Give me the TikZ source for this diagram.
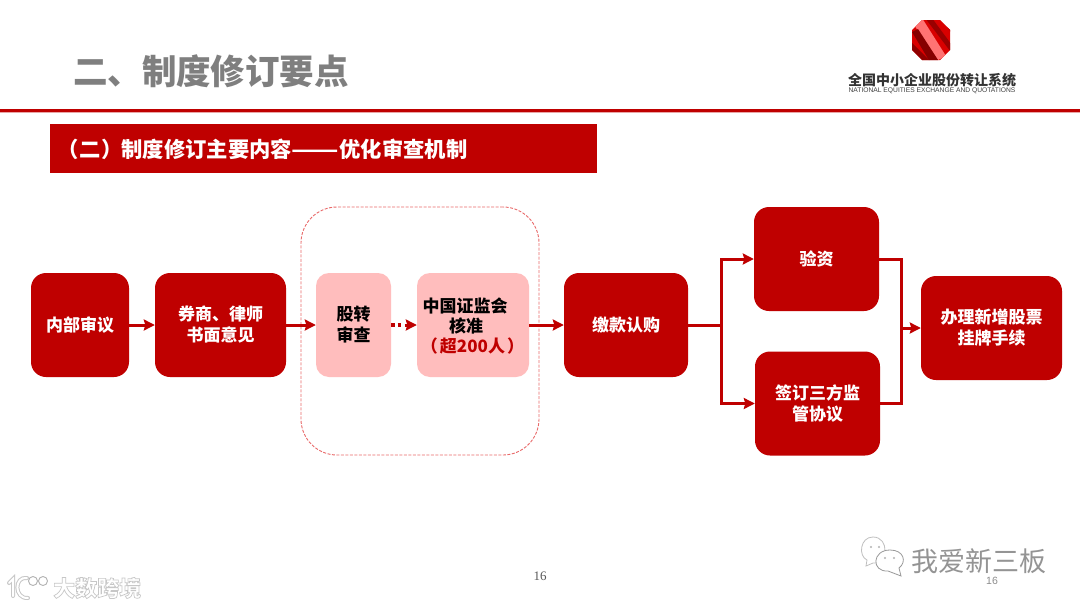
\documentclass[tikz,border=0pt]{standalone}
\usepackage{fontspec}
\setmainfont{Noto Sans CJK SC}
\newfontfamily\serifnum{Liberation Serif}
\newfontfamily\latinsans{Liberation Sans}
\usetikzlibrary{arrows.meta,shapes.geometric}
\definecolor{brand}{HTML}{BF0000}
\definecolor{pinkbox}{HTML}{FFBDBD}
\definecolor{dashred}{HTML}{E96A6A}
\definecolor{titlegrey}{HTML}{7F7F7F}
\newcommand{\fsz}[1]{\fontsize{#1}{#1}\selectfont}
\tikzset{
  x=1pt,y=-1pt,
  redbox/.style={draw=none,fill=brand,rounded corners=15pt,inner sep=0pt,text=white,font=\fsz{17}\bfseries,align=center},
  pinkbox/.style={draw=none,fill=pinkbox,rounded corners=13pt,inner sep=0pt,text=black,font=\fsz{17}\bfseries,align=center},
  link/.style={draw=brand,line width=3pt},
  arrowlink/.style={link,-{Stealth[length=11pt,width=11pt,inset=1.5pt]}},
  dotlink/.style={draw=brand,line width=3.5pt,dash pattern=on 3.5pt off 3pt},
}
\begin{document}
\begin{tikzpicture}
\useasboundingbox (0,0) rectangle (1080,608);
\fill[white] (0,0) rectangle (1080,608);

% header
\node[text=titlegrey,font=\fsz{34.5}\bfseries,anchor=center] (title) at (211,71) {二、制度修订要点};
\fill[brand] (0,108.5) rectangle (1080,111.5);
\fill[brand!35] (0,111.5) rectangle (1080,112.5);
\node[fill=brand,minimum width=547pt,minimum height=49pt,inner sep=0pt,anchor=north west] (banner) at (50,124) {};
\node[text=white,font=\fsz{21.3}\bfseries,anchor=west,inner sep=0pt] (bannertext) at (57,149) {（\hspace{1pt}二\hspace{1pt}）\hspace{-1.5pt}制度修订主要内容\scalebox{1.3}[1]{——}优化审查机制};

% logo
\begin{scope}
\clip (922,20) -- (940,20) -- (950,30) -- (950,50) -- (940,60) -- (922,60) -- (912,50) -- (912,30) -- cycle;
\fill[red!85!black] (905,14) rectangle (957,66);
\fill[brand!75!black] (905,36) -- (935,66) -- (905,66) -- cycle;
\fill[brand!80!black] (922,14) -- (929,14) -- (957,52) -- (957,60) -- cycle;
\fill[red!55!white] (912,22) -- (922,18) -- (946,56) -- (938,60) -- cycle;
\fill[brand!70!black] (912,32) -- (918,29) -- (938,60) -- (930,62) -- cycle;
\fill[brand] (940,16) -- (957,16) -- (957,42) -- cycle;
\end{scope}
\node[text=black!80,font=\fsz{14}\bfseries,inner sep=0pt] (logotext) at (932,80) {全国中小企业股份转让系统};
\node[text=black!75,font=\latinsans\fsz{6.7},inner sep=0pt] (logoen) at (932,91) {NATIONAL EQUITIES EXCHANGE AND QUOTATIONS};

% dashed group
\node[draw=dashred,line width=0.9pt,dash pattern=on 3pt off 1.5pt,rounded corners=36pt,minimum width=238pt,minimum height=248pt,inner sep=0pt] (group) at (420,331) {};

% boxes
\node[redbox,minimum width=98pt,minimum height=104pt] (neibu) at (80,325) {内部审议};
\node[redbox,minimum width=131pt,minimum height=104pt] (quan) at (220.5,325) {券商、律师\\[4pt]书面意见};
\node[pinkbox,minimum width=75pt,minimum height=104pt] (gu) at (353.5,325) {股转\\[4pt]审查};
\node[pinkbox,minimum width=112pt,minimum height=104pt] (zheng) at (473,325) {};
\node[text=black,font=\fsz{17}\bfseries,inner sep=0pt] (zhengA) at (465,306) {中国证监会};
\node[text=black,font=\fsz{17}\bfseries,inner sep=0pt] (zhengB) at (466,326) {核准};
\node[text=brand,font=\fsz{17}\bfseries,inner sep=0pt] (zhengC) at (472.5,346) {（\hspace{2pt}超200人\hspace{2pt}）};
\node[redbox,minimum width=124pt,minimum height=104pt] (jiao) at (626,325) {缴款认购};
\node[redbox,minimum width=125pt,minimum height=104pt] (yan) at (816.5,259) {验资};
\node[redbox,minimum width=125pt,minimum height=104pt] (qian) at (817.5,403.5) {签订三方监\\[4pt]管协议};
\node[redbox,minimum width=141pt,minimum height=104pt] (ban) at (991.5,328) {办理新增股票\\[4pt]挂牌手续};

% connectors
\coordinate (split) at (721,325);
\coordinate (merge) at (901,328);
\draw[arrowlink] (neibu.east) -- (quan.west);
\draw[arrowlink] (quan.east) -- (gu.west);
\draw[dotlink] (gu.east) -- ([xshift=-14pt]zheng.west);
\draw[arrowlink] ([xshift=-12pt]zheng.west) -- (zheng.west);
\draw[arrowlink] (zheng.east) -- (jiao.west);
\draw[link] (jiao.east) -- (split);
\draw[arrowlink] (split) |- (yan.west);
\draw[arrowlink] (split) |- (qian.west);
\draw[link] (yan.east) -| (merge);
\draw[link] (qian.east) -| (merge);
\draw[arrowlink] (merge) -- (ban.west);

% page numbers
\node[text=black!65,font=\serifnum\fsz{13},inner sep=0pt] (pageA) at (540,576) {16};
\node[text=black!45,font=\latinsans\fsz{10.5},inner sep=0pt] (pageB) at (992,581) {16};

% watermarks
\draw[black!25,fill=white,line width=0.8pt] (873,537) .. controls (860,537) and (858,556) .. (867,560) -- (866,566) -- (873,563) .. controls (888,565) and (890,537) .. (873,537) -- cycle;
\draw[black!40,fill=white,line width=0.8pt] (890,550) .. controls (872,550) and (871,572) .. (888,571) -- (901,576) -- (899,568) .. controls (907,562) and (904,550) .. (890,550) -- cycle;
\fill[black!30] (871,547) circle (1.2) (879,547) circle (1.2) (885,558) circle (1.2) (894,558) circle (1.2);
\node[text=black!42,font=\fsz{27},inner sep=0pt,anchor=west] (wm) at (911,561) {我爱新三板};

\draw[black!22,line width=4pt,line cap=round] (9,583) -- (13,579) -- (13,596);
\draw[white,line width=2pt,line cap=round] (9,583) -- (13,579) -- (13,596);
\draw[black!22,line width=4pt,line cap=round] (27,578) .. controls (14,576) and (14,599) .. (28,598);
\draw[white,line width=2pt,line cap=round] (27,578) .. controls (14,576) and (14,599) .. (28,598);
\draw[black!30,fill=white,line width=0.9pt] (33,581) circle (4.5) (43,581) circle (4.5);
\node[text=white,font=\fsz{22}\bfseries,inner sep=0pt,anchor=west] (wm2) at (53,588) {\special{pdf:code 2 Tr 0.78 0.78 0.78 RG 0.7 w}大数跨境\special{pdf:code 0 Tr}};
\end{tikzpicture}
\end{document}
